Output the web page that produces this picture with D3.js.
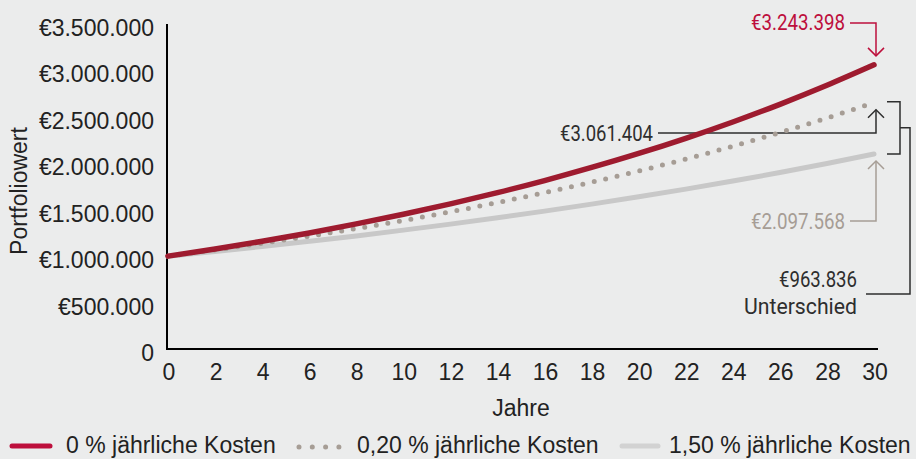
<!DOCTYPE html>
<html>
<head>
<meta charset="utf-8">
<script src="https://cdn.jsdelivr.net/npm/d3@7"></script>
<style>
  body { margin: 0; background: #ebecec; }
  svg { display: block; background: #ebecec; }
  text { font-family: "Liberation Sans", Arial, sans-serif; fill: #222; }
  .note { font-family: Roboto, "Liberation Sans", sans-serif; font-weight: 400; }
</style>
</head>
<body>
<svg id="chart"></svg>
<script>
// data (every 2 years)
var years = [0, 2, 4, 6, 8, 10, 12, 14, 16, 18, 20, 22, 24, 26, 28, 30];
var cost0 = [1000000, 1077000, 1160000, 1250000, 1347000, 1451000, 1563000, 1684000,
             1814000, 1955000, 2106000, 2269000, 2445000, 2635000, 2840000, 3060000];
var cost020 = [1000000, 1067000, 1139000, 1215000, 1297000, 1384000, 1477000, 1577000,
               1683000, 1796000, 1917000, 2046000, 2184000, 2331000, 2488000, 2652000];
var cost150 = [1000000, 1051000, 1104000, 1160000, 1218000, 1280000, 1345000, 1413000,
               1485000, 1560000, 1639000, 1722000, 1809000, 1900000, 1997000, 2100000];
var yTicks = [0, 500000, 1000000, 1500000, 2000000, 2500000, 3000000, 3500000];
var xTicks = [0, 2, 4, 6, 8, 10, 12, 14, 16, 18, 20, 22, 24, 26, 28, 30];
var seriesNames = ["0 % jährliche Kosten", "0,20 % jährliche Kosten", "1,50 % jährliche Kosten"];
var endLabels = ["€3.243.398", "€3.061.404", "€2.097.568", "€963.836", "Unterschied"];

var W = 916, H = 459;
var red = "#9e1b2f", redBright = "#bd0f3c", dotGrey = "#a69d95", lightGrey = "#c8c8c8", dark = "#2e2e2e";

var svg = d3.select("#chart").attr("width", W).attr("height", H);

var x = d3.scaleLinear().domain([0, 30]).range([168, 874]);
var y = d3.scaleLinear().domain([0, 3500000]).range([349, 24]);

// german number format
var de = d3.formatLocale({decimal: ",", thousands: ".", grouping: [3], currency: ["€", ""]});
var fmt = de.format("$,.0f");

// y axis labels
svg.append("g").selectAll("text")
  .data(yTicks)
  .enter().append("text")
    .attr("x", 154)
    .attr("y", d => y(d) + 12)
    .attr("text-anchor", "end")
    .style("font-size", "23px")
    .text(d => d === 0 ? "0" : fmt(d));

// x axis labels
svg.append("g").selectAll("text")
  .data(xTicks)
  .enter().append("text")
    .attr("x", d => x(d) + 1)
    .attr("y", 380)
    .attr("text-anchor", "middle")
    .style("font-size", "23px")
    .text(d => d);

// axis titles
svg.append("text")
  .attr("transform", "translate(27,191) rotate(-90)")
  .attr("text-anchor", "middle")
  .style("font-size", "23px")
  .text("Portfoliowert");

svg.append("text")
  .attr("x", 521).attr("y", 416)
  .attr("text-anchor", "middle")
  .style("font-size", "23px")
  .text("Jahre");

// annotations (drawn under the lines)
var ax = x(30) + 2;
var ann = svg.append("g").attr("fill", "none").attr("stroke-width", 1.5);

function chevron(cx, cy, dir, color) {
  ann.append("path")
    .attr("d", "M" + (cx - 8) + "," + (cy - 8 * dir) + "L" + cx + "," + cy + "L" + (cx + 8) + "," + (cy - 8 * dir))
    .attr("stroke", color);
}

// 0 %
var tipRed = y(cost0[cost0.length - 1]) - 9;
ann.append("path")
  .attr("d", "M850,23H" + ax + "V" + tipRed)
  .attr("stroke", redBright);
chevron(ax, tipRed, 1, redBright);

// 0,20 %
var tipDot = y(cost020[cost020.length - 1]) + 7;
ann.append("path")
  .attr("d", "M658,133H" + ax + "V" + tipDot)
  .attr("stroke", dark);
chevron(ax, tipDot, -1, dark);

// 1,50 %
var tipGrey = y(cost150[cost150.length - 1]) + 7;
ann.append("path")
  .attr("d", "M850,221H" + ax + "V" + tipGrey)
  .attr("stroke", dotGrey);
chevron(ax, tipGrey, -1, dotGrey);

// bracket for the difference
var bTop = y(cost020[cost020.length - 1]) - 1, bBot = y(cost150[cost150.length - 1]);
var bMid = (bTop + bBot) / 2;
ann.append("path")
  .attr("d", "M887," + bTop + "H900V" + bBot + "H887")
  .attr("stroke", dark);
ann.append("path")
  .attr("d", "M900," + bMid + "H910V294H866")
  .attr("stroke", dark);

var notes = [
  {t: endLabels[0], x: 845, y: 30, c: redBright, w: 94},
  {t: endLabels[1], x: 653, y: 141, c: dark, w: 93},
  {t: endLabels[2], x: 845, y: 229, c: dotGrey, w: 94},
  {t: endLabels[3], x: 857, y: 287, c: dark, w: 78},
  {t: endLabels[4], x: 857, y: 314, c: dark, w: 113}
];
svg.append("g").selectAll("text")
  .data(notes)
  .enter().append("text")
    .attr("class", "note")
    .attr("x", d => d.x - d.w)
    .attr("y", d => d.y)
    .attr("textLength", d => d.w)
    .attr("lengthAdjust", "spacingAndGlyphs")
    .style("font-size", "22px")
    .style("fill", d => d.c)
    .text(d => d.t);

// axis lines
svg.append("path")
  .attr("d", "M167,24V349H878")
  .attr("fill", "none")
  .attr("stroke", "#000")
  .attr("stroke-width", 2);

// lines
var line = d3.line()
  .x((d, i) => x(years[i]))
  .y(d => y(d))
  .curve(d3.curveMonotoneX);

svg.append("path")
  .datum(cost150)
  .attr("d", line)
  .attr("fill", "none")
  .attr("stroke", lightGrey)
  .attr("stroke-width", 5)
  .attr("stroke-linecap", "round");

svg.append("path")
  .datum(cost020)
  .attr("d", line)
  .attr("fill", "none")
  .attr("stroke", dotGrey)
  .attr("stroke-width", 5)
  .attr("stroke-dasharray", "0 11.7")
  .attr("stroke-linecap", "round");

svg.append("path")
  .datum(cost0)
  .attr("d", line)
  .attr("fill", "none")
  .attr("stroke", red)
  .attr("stroke-width", 5.5)
  .attr("stroke-linecap", "round");

// legend
var leg = svg.append("g");
leg.append("line")
  .attr("x1", 12).attr("x2", 50).attr("y1", 446).attr("y2", 446)
  .attr("stroke", redBright).attr("stroke-width", 5).attr("stroke-linecap", "round");
leg.append("line")
  .attr("x1", 299).attr("x2", 340).attr("y1", 447).attr("y2", 447)
  .attr("stroke", dotGrey).attr("stroke-width", 5).attr("stroke-linecap", "round")
  .attr("stroke-dasharray", "0 13.3");
leg.append("line")
  .attr("x1", 622).attr("x2", 658).attr("y1", 446).attr("y2", 446)
  .attr("stroke", "#d2d2d2").attr("stroke-width", 5).attr("stroke-linecap", "round");

leg.selectAll("text")
  .data(seriesNames)
  .enter().append("text")
    .attr("x", (d, i) => [66, 357, 669][i])
    .attr("y", 453)
    .style("font-size", "23px")
    .text(d => d);
</script>
</body>
</html>
